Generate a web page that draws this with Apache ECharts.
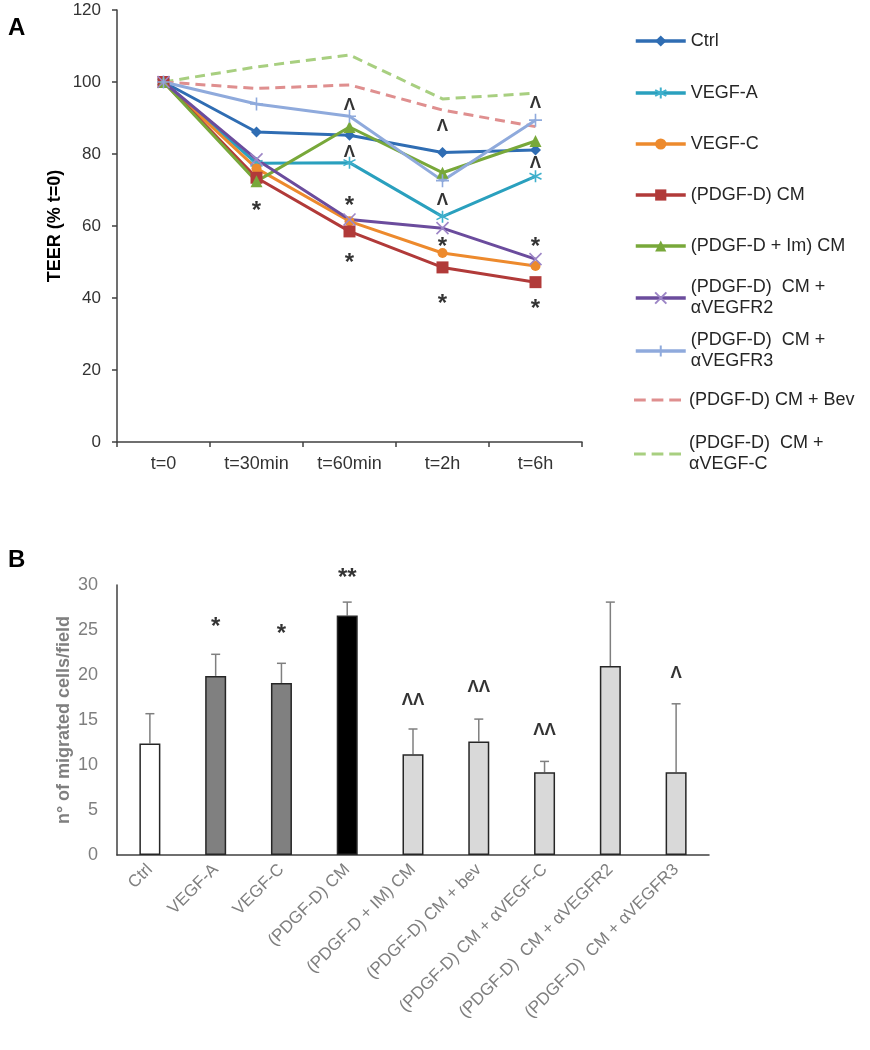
<!DOCTYPE html>
<html>
<head>
<meta charset="utf-8">
<script src="https://cdn.jsdelivr.net/npm/echarts@6/dist/echarts.min.js"></script>
<style>
  html, body { margin: 0; padding: 0; background: #fff; }
  #chart { width: 870px; height: 1050px; }
</style>
</head>
<body>
<div id="chart"></div>
<script>
// --- data: panel A (TEER, % of t=0) ---
var timeLabels = ['t=0', 't=30min', 't=60min', 't=2h', 't=6h'];
var ctrl     = [100, 86.1, 85.2, 80.4, 81.1];
var vegfA    = [100, 77.4, 77.6, 62.6, 73.8];
var vegfC    = [100, 76.0, 61.3, 52.5, 48.9];
var pdgfCM   = [100, 73.4, 58.5, 48.5, 44.4];
var pdgfImCM = [100, 72.4, 87.5, 74.8, 83.6];
var cmR2     = [100, 78.5, 61.8, 59.4, 50.8];
var cmR3     = [100, 93.9, 90.5, 72.6, 89.4];
var cmBev    = [100, 98.2, 99.2, 92.2, 87.6];
var cmAntiC  = [100, 104.2, 107.5, 95.3, 96.9];
// significance marks: [time, value, text]
var teerMarks = [
  ['t=30min', 65.8, '*'],
  ['t=60min', 93.6, 'Λ'], ['t=60min', 80.6, 'Λ'], ['t=60min', 67.2, '*'], ['t=60min', 51.4, '*'],
  ['t=2h', 87.8, 'Λ'], ['t=2h', 67.2, 'Λ'], ['t=2h', 55.6, '*'], ['t=2h', 40.0, '*'],
  ['t=6h', 94.2, 'Λ'], ['t=6h', 77.5, 'Λ'], ['t=6h', 55.6, '*'], ['t=6h', 38.6, '*']
];
var teerTicks = [0, 20, 40, 60, 80, 100, 120];

// --- data: panel B (migrated cells/field) ---
var barCats = ['Ctrl', 'VEGF-A', 'VEGF-C', '(PDGF-D) CM', '(PDGF-D + IM) CM',
  '(PDGF-D) CM + bev', '(PDGF-D) CM + αVEGF-C', '(PDGF-D)  CM + αVEGFR2', '(PDGF-D)  CM + αVEGFR3'];
var barVals = [12.4, 19.9, 19.1, 26.6, 11.2, 12.6, 9.2, 21.0, 9.2];
var barErr  = [3.3, 2.4, 2.2, 1.5, 2.8, 2.5, 1.2, 7.1, 7.6];
var barSig  = ['', '*', '*', '**', 'ΛΛ', 'ΛΛ', 'ΛΛ', '', 'Λ'];
var sigPos  = [null, 26.0, 25.2, 31.4, 17.2, 18.6, 13.9, null, 20.2];
var migTicks = [0, 5, 10, 15, 20, 25, 30];

// styles
var barColors = ['#ffffff', '#808080', '#808080', '#000000', '#d9d9d9', '#d9d9d9', '#d9d9d9', '#d9d9d9', '#d9d9d9'];
var font = "'Liberation Sans', Arial, sans-serif";
var ink = '#262626';
var grey = '#7f7f7f';

var symAst = 'path://M5,0 L5,10 M0.67,2.5 L9.33,7.5 M0.67,7.5 L9.33,2.5';
var symX = 'path://M0,0 L10,10 M0,10 L10,0';
var symPlus = 'path://M5,0 L5,10 M0,5 L10,5';
var dashIcon = 'path://M0,0 h12 v3 h-12 z M18,0 h12 v3 h-12 z M36,0 h12 v3 h-12 z';

function lineSeries(name, data, color, symbol, size, stroke) {
  return {
    name: name, type: 'line', data: data,
    xAxisIndex: 0, yAxisIndex: 0,
    symbol: symbol, symbolSize: size,
    lineStyle: { color: color, width: 3 },
    itemStyle: stroke
      ? { color: stroke, borderColor: stroke, borderWidth: 1.6 }
      : { color: color, borderWidth: 0 },
    emphasis: { disabled: true }
  };
}
function dashSeries(name, data, color) {
  return {
    name: name, type: 'line', data: data,
    xAxisIndex: 0, yAxisIndex: 0,
    symbol: 'none',
    lineStyle: { color: color, width: 3, type: [10, 6] },
    itemStyle: { color: color },
    emphasis: { disabled: true }
  };
}
// star glyph sits high in its line box, so nudge it down
function marks(list) {
  return list.map(function(d) {
    var star = d[2].indexOf('*') >= 0;
    return {
      value: [d[0], d[1]],
      label: {
        formatter: d[2],
        fontSize: star ? 24 : 17,
        offset: star ? [0, 6] : [0, 0]
      }
    };
  });
}

var names = ['Ctrl', 'VEGF-A', 'VEGF-C', '(PDGF-D) CM', '(PDGF-D + Im) CM',
  '(PDGF-D)  CM +\nαVEGFR2', '(PDGF-D)  CM +\nαVEGFR3', '(PDGF-D) CM + Bev', '(PDGF-D)  CM +\nαVEGF-C'];
var legendY = [41, 93, 144, 195, 246, 298, 351, 400, 454];

var legends = names.map(function(n, i) {
  var two = n.indexOf('\n') >= 0;
  var dashed = i >= 7;
  return {
    data: [dashed ? { name: n, icon: dashIcon } : n],
    left: 634, top: legendY[i] - (two ? 31.5 : 10.5),
    padding: 0, itemWidth: dashed ? 47 : 50, itemHeight: dashed ? 3 : 14, itemGap: 0,
    selectedMode: false,
    lineStyle: { width: 3.5 },
    textStyle: { fontFamily: font, fontSize: 18, color: ink, lineHeight: 21,
      padding: two ? [21, 0, 0, dashed ? 3 : 0] : [0, 0, 0, dashed ? 3 : 0] }
  };
});

var sigData = [];
sigPos.forEach(function(v, i) { if (v != null) sigData.push([i, v, barSig[i]]); });

var chart = echarts.init(document.getElementById('chart'), null, { renderer: 'canvas' });
chart.setOption({
  animation: false,
  backgroundColor: '#fff',
  title: [
    { text: 'A', left: 3, top: 11, textStyle: { fontFamily: font, fontSize: 24, fontWeight: 'bold', color: '#000' } },
    { text: 'B', left: 3, top: 543, textStyle: { fontFamily: font, fontSize: 24, fontWeight: 'bold', color: '#000' } }
  ],
  legend: legends,
  grid: [
    { left: 117, top: 10, width: 465, height: 432, outerBoundsMode: 'none' },
    { left: 117, top: 585, width: 592, height: 270, outerBoundsMode: 'none' }
  ],
  xAxis: [
    {
      gridIndex: 0, type: 'category', data: timeLabels,
      axisLine: { lineStyle: { color: '#404040', width: 1.5 } },
      axisTick: { show: true, length: 5, lineStyle: { color: '#404040', width: 1.5 } },
      axisLabel: { fontFamily: font, fontSize: 18, color: '#333', margin: 13, interval: 0 },
      splitLine: { show: false }
    },
    {
      gridIndex: 1, type: 'category', data: barCats,
      axisLine: { lineStyle: { color: '#404040', width: 1.5 } },
      axisTick: { show: false },
      axisLabel: { fontFamily: font, fontSize: 17, color: grey, rotate: 45, margin: 12, interval: 0 },
      splitLine: { show: false }
    }
  ],
  yAxis: [
    {
      gridIndex: 0, type: 'value', min: teerTicks[0], max: teerTicks[teerTicks.length - 1], interval: 20,
      name: 'TEER (% t=0)', nameLocation: 'middle', nameGap: 53, nameMoveOverlap: false,
      nameTextStyle: { fontFamily: font, fontSize: 18, fontWeight: 'bold', color: '#000' },
      axisLine: { show: true, lineStyle: { color: '#404040', width: 1.5 } },
      axisTick: { show: true, length: 5, lineStyle: { color: '#404040', width: 1.5 } },
      axisLabel: { fontFamily: font, fontSize: 17, color: '#333', margin: 16 },
      splitLine: { show: false }
    },
    {
      gridIndex: 1, type: 'value', min: migTicks[0], max: migTicks[migTicks.length - 1], interval: 5,
      name: 'n° of migrated cells/field', nameLocation: 'middle', nameGap: 44, nameMoveOverlap: false,
      nameTextStyle: { fontFamily: font, fontSize: 18, fontWeight: 'bold', color: grey },
      axisLine: { show: true, lineStyle: { color: '#404040', width: 1.5 } },
      axisTick: { show: false },
      axisLabel: { fontFamily: font, fontSize: 18, color: grey, margin: 19 },
      splitLine: { show: false }
    }
  ],
  series: [
    dashSeries(names[8], cmAntiC, '#a8cf80'),
    dashSeries(names[7], cmBev, '#df8f8f'),
    lineSeries(names[0], ctrl, '#2f6db3', 'diamond', 11),
    lineSeries(names[1], vegfA, '#2aa0be', symAst, 12, '#3fb0cc'),
    lineSeries(names[2], vegfC, '#ed8a2d', 'circle', 10),
    lineSeries(names[3], pdgfCM, '#b13a39', 'rect', 12),
    lineSeries(names[4], pdgfImCM, '#78a83a', 'triangle', 12),
    lineSeries(names[5], cmR2, '#6b4c9d', symX, 12, '#9d86c6'),
    lineSeries(names[6], cmR3, '#8faadc', symPlus, 13, '#8faadc'),
    {
      name: 'teerMarks', type: 'scatter', xAxisIndex: 0, yAxisIndex: 0,
      data: marks(teerMarks), symbolSize: 1, itemStyle: { color: 'rgba(0,0,0,0)' },
      silent: true, clip: false, z: 5,
      label: { show: true, position: 'inside', fontFamily: font, fontWeight: 'bold', color: '#000' }
    },
    {
      name: 'migration', type: 'bar', xAxisIndex: 1, yAxisIndex: 1,
      barWidth: 21,
      data: barVals.map(function(v, i) { return { value: v, itemStyle: { color: barColors[i] } }; }),
      itemStyle: { borderColor: ink, borderWidth: 1.5 },
      emphasis: { disabled: true }
    },
    {
      name: 'migrationErr', type: 'custom', xAxisIndex: 1, yAxisIndex: 1,
      data: barVals.map(function(v, i) { return [i, v, v + barErr[i]]; }),
      silent: true, z: 1,
      renderItem: function(params, api) {
        var lo = api.coord([api.value(0), api.value(1)]);
        var hi = api.coord([api.value(0), api.value(2)]);
        return {
          type: 'group',
          children: [
            { type: 'line', shape: { x1: lo[0], y1: lo[1], x2: hi[0], y2: hi[1] }, style: { stroke: grey, lineWidth: 1.5 } },
            { type: 'line', shape: { x1: hi[0] - 4.5, y1: hi[1], x2: hi[0] + 4.5, y2: hi[1] }, style: { stroke: grey, lineWidth: 1.5 } }
          ]
        };
      }
    },
    {
      name: 'migrationSig', type: 'scatter', xAxisIndex: 1, yAxisIndex: 1,
      data: marks(sigData), symbolSize: 1, itemStyle: { color: 'rgba(0,0,0,0)' },
      silent: true, clip: false,
      label: { show: true, position: 'inside', fontFamily: font, fontWeight: 'bold', color: '#000' }
    }
  ]
});
window.addEventListener('resize', function() { chart.resize(); });
</script>
</body>
</html>
